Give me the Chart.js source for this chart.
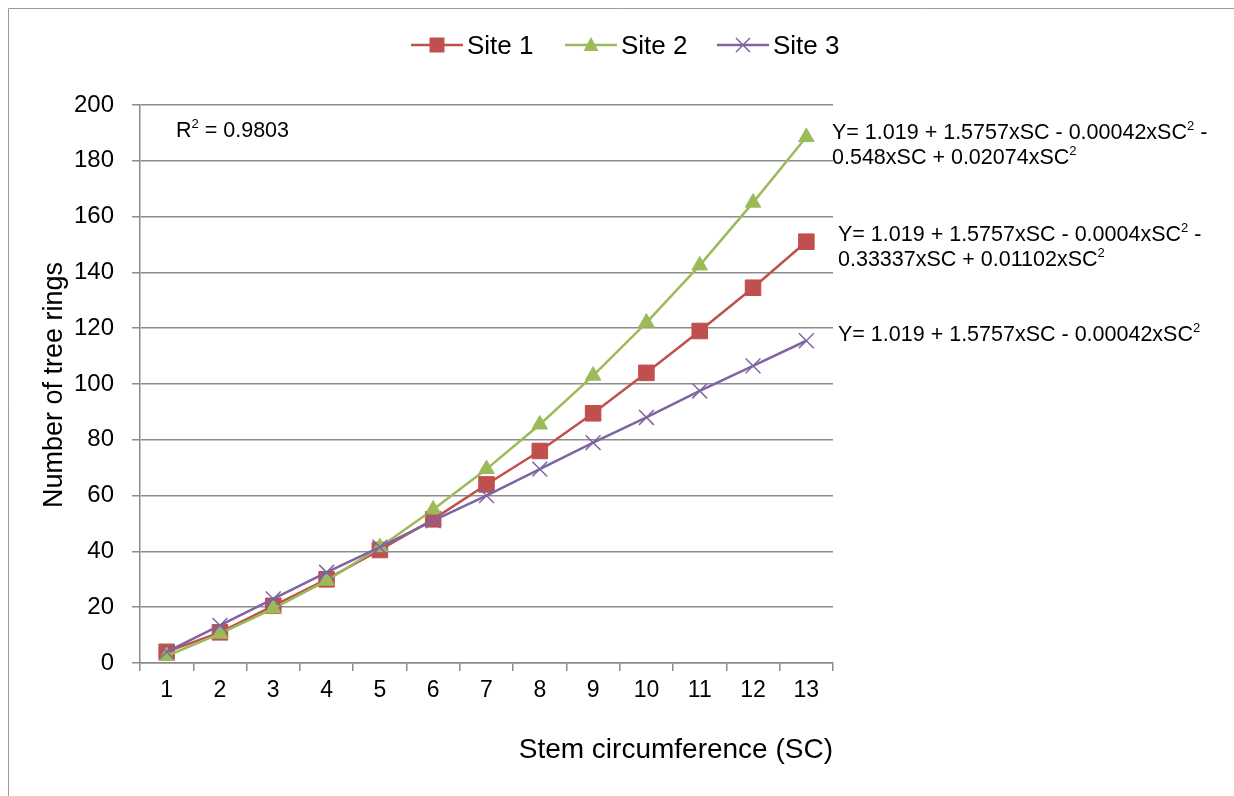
<!DOCTYPE html>
<html>
<head>
<meta charset="utf-8">
<script src="https://cdn.jsdelivr.net/npm/chart.js@4"></script>
<style>
  html, body { margin: 0; padding: 0; background: #fff; }
  #wrap { width: 1234px; height: 796px; position: relative; }
</style>
</head>
<body>
<div id="wrap"><canvas id="chartCanvas" width="1234" height="796"></canvas></div>
<script>
// ---- data ----
const categories = ["1", "2", "3", "4", "5", "6", "7", "8", "9", "10", "11", "12", "13"];
const site1 = [4, 11, 20.5, 30, 40.5, 51.5, 64, 76, 89.5, 104, 119, 134.5, 151];
const site2 = [2.5, 10.5, 19.5, 29.5, 41.5, 55, 69.5, 85.5, 103, 122, 142.5, 165, 188.5];
const site3 = [4, 13.5, 23, 32.5, 41.5, 51, 60, 69.5, 79, 88, 97.5, 106.5, 115.5];
const seriesNames = ["Site 1", "Site 2", "Site 3"];
const yTicks = [0, 20, 40, 60, 80, 100, 120, 140, 160, 180, 200];

const FONT = "'Liberation Sans', Arial, sans-serif";
const red = "#C0504D", green = "#9BBB59", purple = "#8064A2";
const gridCol = "#8C8C8C";

// ---- text drawn on top: titles, legend, equations ----
function drawMarker(ctx, style, x, y, col) {
    ctx.save();
    ctx.fillStyle = col;
    ctx.strokeStyle = col;
    if (style === "rect") {
        ctx.fillRect(x - 7.5, y - 7.5, 15, 15);
    } else if (style === "triangle") {
        ctx.beginPath();
        ctx.moveTo(x, y - 8);
        ctx.lineTo(x + 7.5, y + 6);
        ctx.lineTo(x - 7.5, y + 6);
        ctx.closePath();
        ctx.fill();
    } else {
        ctx.lineWidth = 1.5;
        ctx.beginPath();
        ctx.moveTo(x - 7, y - 7); ctx.lineTo(x + 7, y + 7);
        ctx.moveTo(x + 7, y - 7); ctx.lineTo(x - 7, y + 7);
        ctx.stroke();
    }
    ctx.restore();
}

function supText(ctx, parts, x, y, size) {
    // parts: array of [text, isSup]
    let cx = x;
    parts.forEach(p => {
        if (p[1]) {
            ctx.font = Math.round(size * 0.62) + "px " + FONT;
            ctx.fillText(p[0], cx, y - size * 0.4);
        } else {
            ctx.font = size + "px " + FONT;
            ctx.fillText(p[0], cx, y);
        }
        cx += ctx.measureText(p[0]).width;
    });
}

const overlay = {
    id: "overlay",
    afterDraw(chart) {
        const ctx = chart.ctx;
        const a = chart.chartArea;
        ctx.save();

        // outer frame
        ctx.strokeStyle = "#9a9a9a";
        ctx.lineWidth = 1;
        ctx.beginPath();
        ctx.moveTo(8.5, 796); ctx.lineTo(8.5, 8.5); ctx.lineTo(1234, 8.5);
        ctx.stroke();

        ctx.fillStyle = "#000";
        ctx.textBaseline = "alphabetic";

        // axis titles
        ctx.font = "28px " + FONT;
        ctx.textAlign = "right";
        ctx.fillText("Stem circumference (SC)", a.right, 758);
        ctx.save();
        ctx.translate(62, 385);
        ctx.rotate(-Math.PI / 2);
        ctx.textAlign = "center";
        ctx.font = "27px " + FONT;
        ctx.fillText("Number of tree rings", 0, 0);
        ctx.restore();

        // legend
        const cols = [red, green, purple];
        const styles = ["rect", "triangle", "crossRot"];
        const lx = [411, 565, 717];
        ctx.textAlign = "left";
        seriesNames.forEach((n, i) => {
            ctx.strokeStyle = cols[i];
            ctx.lineWidth = 2.5;
            ctx.beginPath();
            ctx.moveTo(lx[i], 45); ctx.lineTo(lx[i] + 52, 45);
            ctx.stroke();
            drawMarker(ctx, styles[i], lx[i] + 26, 45, cols[i]);
            ctx.fillStyle = "#000";
            ctx.font = "26px " + FONT;
            ctx.fillText(n, lx[i] + 56, 54);
        });

        // annotations
        ctx.fillStyle = "#000";
        supText(ctx, [["R", 0], ["2", 1], [" = 0.9803", 0]], 176, 137, 21.5);
        supText(ctx, [["Y= 1.019 + 1.5757xSC - 0.00042xSC", 0], ["2", 1], [" -", 0]], 832, 139, 21.5);
        supText(ctx, [["0.548xSC + 0.02074xSC", 0], ["2", 1]], 832, 164, 21.5);
        supText(ctx, [["Y= 1.019 + 1.5757xSC - 0.0004xSC", 0], ["2", 1], [" -", 0]], 838, 241, 21.5);
        supText(ctx, [["0.33337xSC + 0.01102xSC", 0], ["2", 1]], 838, 266, 21.5);
        supText(ctx, [["Y= 1.019 + 1.5757xSC - 0.00042xSC", 0], ["2", 1]], 838, 341, 21.5);

        ctx.restore();
    }
};

// ---- chart ----
const ctx = document.getElementById("chartCanvas").getContext("2d");

function ds(label, data, col, style, r) {
    return {
        label,
        data,
        borderColor: col,
        backgroundColor: col,
        borderWidth: 2.5,
        pointStyle: style,
        pointRadius: r,
        pointHoverRadius: r,
        pointBorderWidth: style === "crossRot" ? 1.5 : 1,
        tension: 0
    };
}

new Chart(ctx, {
    type: "line",
    data: {
        labels: categories,
        datasets: [
            ds(seriesNames[2], site3, purple, "crossRot", 10.5),
            ds(seriesNames[1], site2, green, "triangle", 9),
            ds(seriesNames[0], site1, red, "rect", 11)
        ]
    },
    options: {
        responsive: false,
        animation: false,
        devicePixelRatio: 1,
        layout: { padding: { top: 105, right: 401, left: 0, bottom: 0 } },
        plugins: {
            legend: { display: false },
            tooltip: { enabled: false }
        },
        scales: {
            x: {
                offset: true,
                afterFit(scale) { scale.height = 133; },
                grid: {
                    offset: true,
                    drawOnChartArea: false,
                    color: gridCol,
                    lineWidth: 1.5,
                    tickLength: 8
                },
                border: { color: gridCol, width: 1.5 },
                ticks: {
                    color: "#000",
                    font: { family: FONT, size: 23 },
                    padding: 6,
                    maxRotation: 0
                }
            },
            y: {
                min: 0,
                max: 200,
                afterFit(scale) { scale.width = 140; },
                afterBuildTicks(scale) { scale.ticks = yTicks.map(v => ({ value: v })); },
                grid: {
                    color: gridCol,
                    lineWidth: 1.5,
                    tickLength: 8
                },
                border: { color: gridCol, width: 1.5 },
                ticks: {
                    color: "#000",
                    font: { family: FONT, size: 24 },
                    padding: 18
                }
            }
        }
    },
    plugins: [overlay]
});
</script>
</body>
</html>
